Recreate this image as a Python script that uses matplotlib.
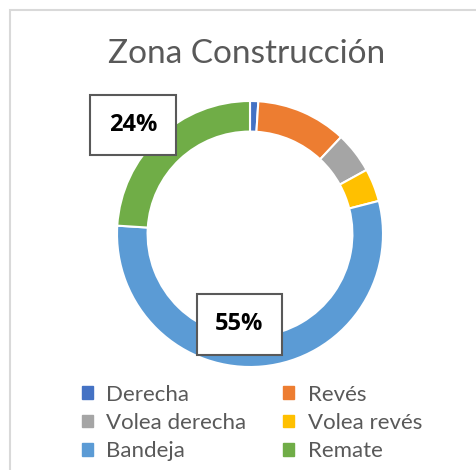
import numpy as np
import matplotlib.pyplot as plt
from matplotlib.patches import Rectangle

# Shot distribution, zona construccion
categories = ['Derecha', 'Revés', 'Volea derecha', 'Volea revés', 'Bandeja', 'Remate']
values = [1, 11, 5, 4, 55, 24]
colors = ['#4472c4', '#ed7d31', '#a5a5a5', '#ffc000', '#5b9bd5', '#70ad47']
labelled = ['Bandeja', 'Remate']

W, H = 477, 470
fig = plt.figure(figsize=(W / 100, H / 100), dpi=100)
fig.patch.set_facecolor('white')

# chart area border (runs off the right / bottom edge)
fig.patches.append(Rectangle((10 / W, -0.1), 1.2, (H - 10) / H + 0.1,
                             transform=fig.transFigure, fill=False,
                             edgecolor='#d9d9d9', linewidth=1.5))

fig.text(247 / W, 1 - 54 / H, 'Zona Construcción', ha='center', va='center',
         fontsize=24, color='#595959', family='Lato')

cx, cy, r = 250, 234, 133
ax = fig.add_axes([(cx - r) / W, (H - cy - r) / H, 2 * r / W, 2 * r / H])
wedges, _ = ax.pie(values, colors=colors, startangle=90, counterclock=False,
                   radius=1, wedgeprops=dict(width=0.23, edgecolor='white', linewidth=1.5))
ax.set_xlim(-1, 1)
ax.set_ylim(-1, 1)
ax.axis('off')

# data labels with boxes
label_pos = {'Remate': (-0.88, 0.82), 'Bandeja': (-0.08, -0.68)}
for name in labelled:
    v = values[categories.index(name)]
    x, y = label_pos[name]
    ax.text(x, y, f'{v}%', ha='center', va='center', fontsize=17,
            fontweight='bold', family='Open Sans', color='black', zorder=5,
            bbox=dict(boxstyle='square,pad=0.78', facecolor='white',
                      edgecolor='#595959', linewidth=1.5))

handles = [Rectangle((0, 0), 1, 1, color=c) for c in colors]
# Excel fills legend row-wise: reorder for matplotlib column-wise filling
order = [0, 2, 4, 1, 3, 5]
leg = fig.legend([handles[i] for i in order], [categories[i] for i in order],
                 ncol=2, loc='center', bbox_to_anchor=(252 / W, 1 - 423 / H),
                 frameon=False, handlelength=0.5, handleheight=0.5,
                 handletextpad=0.6, columnspacing=1.65, labelspacing=0.38,
                 prop={'family': 'Lato', 'size': 16})
for t in leg.get_texts():
    t.set_color('#595959')

fig.savefig('out.png', dpi=100)
